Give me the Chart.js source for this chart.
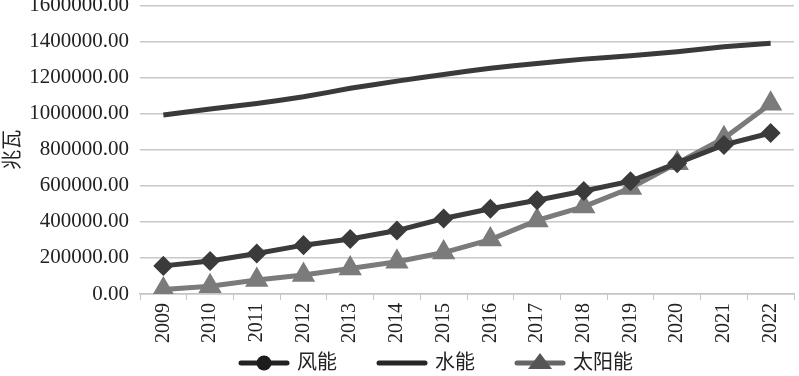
<!DOCTYPE html>
<html>
<head>
<meta charset="utf-8">
<script src="https://cdn.jsdelivr.net/npm/chart.js@4"></script>
<style>
  html, body { margin: 0; padding: 0; background: #fff; overflow: hidden; }
  #frame { width: 799px; height: 376px; overflow: hidden; position: relative; }
  #wrap { width: 799px; height: 394px; position: absolute; top: -18px; left: 0; }
</style>
</head>
<body>
<div id="frame"><div id="wrap"><canvas id="myChart"></canvas></div></div>
<script>
const years = ["2009", "2010", "2011", "2012", "2013", "2014", "2015", "2016", "2017", "2018", "2019", "2020", "2021", "2022"];
const wind = [156000, 183000, 225000, 271000, 305000, 352000, 419000, 473000, 520000, 571000, 626000, 726000, 827000, 893000];
const hydro = [993000, 1026000, 1057000, 1094000, 1141000, 1181000, 1218000, 1252000, 1279000, 1303000, 1322000, 1344000, 1372000, 1391000];
const solar = [25000, 43000, 78000, 105000, 142000, 179000, 230000, 302000, 408000, 485000, 588000, 726000, 864000, 1056000];
const yTicks = [0, 200000, 400000, 600000, 800000, 1000000, 1200000, 1400000, 1600000];

const serif = "'Liberation Serif', 'Noto Sans CJK SC', serif";

// legend: line sample + marker, drawn by a small plugin
const legendItems = [
  { label: "风能", line: "#222", marker: "circle", markerColor: "#1c1c1c" },
  { label: "水能", line: "#262626", marker: null },
  { label: "太阳能", line: "#666", marker: "triangle", markerColor: "#555" }
];

const legendPlugin = {
  id: 'lineLegend',
  afterDraw(chart) {
    const ctx = chart.ctx;
    const y = chart.height - 13, sampleW = 50, gap = 8, spacing = 40;
    ctx.save();
    ctx.font = "20px " + serif;
    let widths = legendItems.map(it => sampleW + gap + ctx.measureText(it.label).width);
    let total = widths.reduce((a, b) => a + b, 0) + spacing * (legendItems.length - 1);
    let x = 436 - total / 2;
    legendItems.forEach((it, i) => {
      ctx.strokeStyle = it.line;
      ctx.lineWidth = 5;
      ctx.lineCap = 'round';
      ctx.beginPath();
      ctx.moveTo(x + 2, y);
      ctx.lineTo(x + sampleW - 2, y);
      ctx.stroke();
      const cx = x + sampleW / 2;
      ctx.fillStyle = it.markerColor;
      if (it.marker === 'circle') {
        ctx.beginPath();
        ctx.arc(cx, y, 7.5, 0, Math.PI * 2);
        ctx.fill();
      } else if (it.marker === 'triangle') {
        ctx.beginPath();
        ctx.moveTo(cx, y - 10);
        ctx.lineTo(cx + 12, y + 6);
        ctx.lineTo(cx - 12, y + 6);
        ctx.closePath();
        ctx.fill();
      }
      ctx.fillStyle = "#222";
      ctx.textBaseline = 'middle';
      ctx.fillText(it.label, x + sampleW + gap, y + 1);
      x += widths[i] + spacing;
    });
    ctx.restore();
  }
};

new Chart(document.getElementById('myChart'), {
  type: 'line',
  data: {
    labels: years,
    datasets: [{
      label: "风能",
      data: wind,
      borderColor: "#3b3b3b",
      backgroundColor: "#3b3b3b",
      borderWidth: 5,
      pointStyle: 'rectRot',
      pointRadius: 6.5,
      pointHoverRadius: 6.5,
      tension: 0
    }, {
      label: "水能",
      data: hydro,
      borderColor: "#3a3a3a",
      backgroundColor: "#3a3a3a",
      borderWidth: 5,
      pointRadius: 0,
      tension: 0.15
    }, {
      label: "太阳能",
      data: solar,
      borderColor: "#7b7b7b",
      backgroundColor: "#7b7b7b",
      borderWidth: 5,
      pointStyle: 'triangle',
      pointRadius: 8.5,
      pointHoverRadius: 8.5,
      tension: 0
    }]
  },
  options: {
    responsive: true,
    maintainAspectRatio: false,
    animation: false,
    layout: { autoPadding: false, padding: { top: 22, right: 5, bottom: 30, left: 0 } },
    plugins: {
      legend: { display: false },
      tooltip: { enabled: false }
    },
    scales: {
      x: {
        offset: true,
        grid: { offset: true, drawOnChartArea: false, drawTicks: true, tickLength: 6, color: "#c4c4c4" },
        border: { color: "#c4c4c4", width: 1.5 },
        ticks: {
          minRotation: 90, maxRotation: 90, padding: 3,
          color: "#222", font: { family: serif, size: 20 }
        }
      },
      y: {
        min: 0,
        max: 1600000,
        afterBuildTicks(axis) { axis.ticks = yTicks.map(v => ({ value: v })); },
        afterFit(axis) { axis.width = 140; },
        grid: { drawTicks: false, color: "#c8c8c8", lineWidth: 1.5 },
        border: { display: false },
        ticks: {
          padding: 11,
          color: "#222",
          font: { family: serif, size: 21 },
          callback: v => Number(v).toFixed(2)
        },
        title: {
          display: true, text: "兆瓦", color: "#222",
          font: { family: serif, size: 20, lineHeight: 1.2 },
          padding: { top: 2, bottom: 0 }
        }
      }
    }
  },
  plugins: [legendPlugin]
});
</script>
</body>
</html>
